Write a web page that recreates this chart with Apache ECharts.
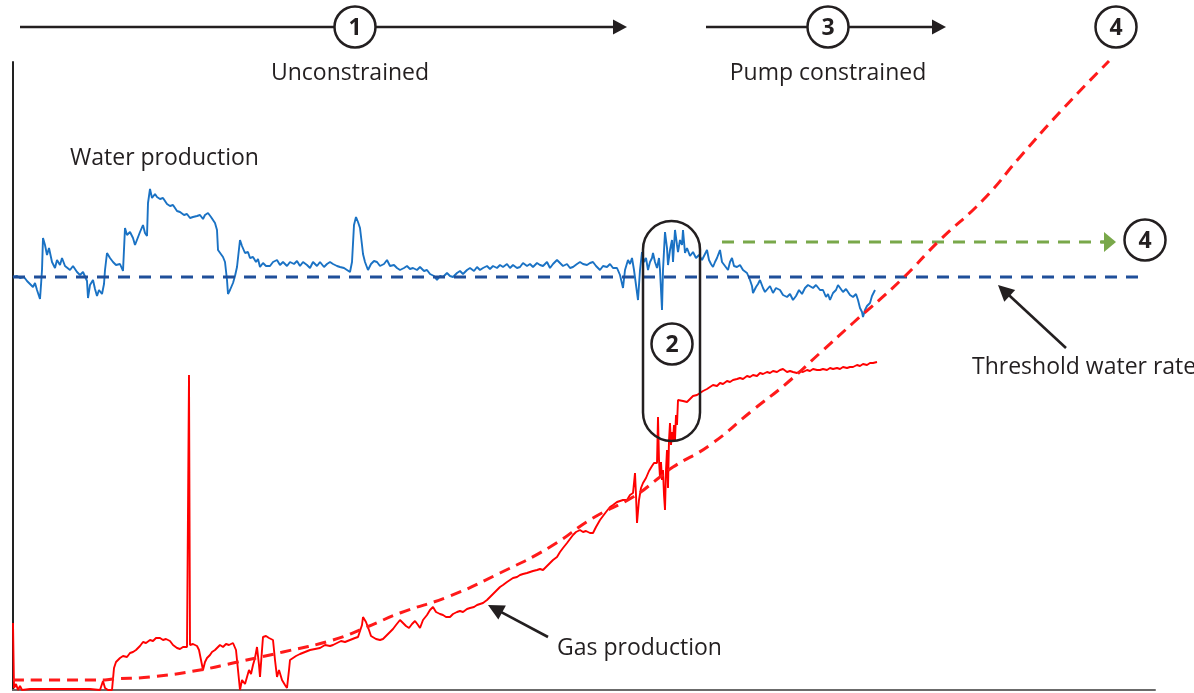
<!DOCTYPE html>
<html><head><meta charset="utf-8">
<script src="https://cdn.jsdelivr.net/npm/echarts@6/dist/echarts.min.js"></script>
<style>html,body{margin:0;padding:0;background:#fff}#c{width:1194px;height:693px}</style>
</head><body><div id="c"></div>
<script>
// x: time (days), y: rate (arbitrary units)
const waterProduction = [[13,413],[17,414],[20,412],[24,413],[27,409],[30,406],[33,403],[35,407],[37,400],[39,394],[40,391],[41,405],[42,420],[43,452],[45,445],[47,435],[49,442],[50,440],[52,428],[55,422],[57,430],[60,425],[62,432],[65,424],[67,423],[70,420],[73,424],[77,418],[80,415],[83,418],[87,409],[88,392],[90,405],[93,410],[95,401],[97,394],[99,400],[102,396],[104,406],[105,420],[107,437],[110,432],[113,428],[116,425],[120,426],[123,419],[125,462],
[127,455],[130,458],[133,452],[135,445],[137,447],[140,458],[143,465],[145,457],[147,454],[148,487],[150,501],[152,492],[155,496],[157,493],[160,491],[163,492],[167,486],[170,484],[173,485],[177,479],[180,478],[184,475],[187,476],[190,472],[193,473],[197,474],[200,475],[203,471],[205,475],[208,477],[211,473],[215,467],[217,460],[218,440],[220,438],[223,433],[225,428],[227,410],[228,396],[230,400],[233,407],[235,414],[237,423],[240,450],[242,444],[245,437],[248,438],[250,432],[253,433],[256,428],[258,431],[260,423],[263,427],[266,424],[270,424],[273,428],[277,430],[280,425],[283,428],[287,424],[290,428],[294,426],[297,429],[300,424],[303,428],[307,425],[310,422],[313,428],[317,424],[320,428],[324,423],[327,426],[330,428],[333,426],[337,424],[340,423],[344,422],[347,420],[350,418],[352,428],[354,465],[356,473],[358,468],[360,462],[362,445],[363,436],[365,428],[368,420],[371,426],[374,429],[377,428],[380,424],[384,426],[387,430],[390,424],[394,425],[397,422],
[400,420],[404,422],[407,424],[410,421],[413,422],[417,420],[420,423],[424,419],[427,420],[430,416],[434,414],[437,410],[440,414],[443,413],[447,417],[450,414],[453,413],[457,417],[460,419],[463,416],[467,420],[470,422],[474,419],[477,423],[480,420],[483,422],[487,424],[490,421],[493,424],[497,422],[500,425],[503,423],[507,426],[510,422],[513,425],[517,422],[520,423],[523,427],[527,424],[530,426],[533,423],[537,427],[540,425],[543,424],[547,428],[550,422],[553,426],[557,430],[560,427],[563,424],[567,426],[570,422],[573,423],[577,426],[580,428],[583,426],[587,425],[590,427],[593,428],[596,424],[600,420],[603,424],[607,423],[610,426],[613,422],[617,422],[620,415],[623,402],[625,420],[628,430],[630,426],[632,432],[634,420],[636,405],[638,390],[640,420],[642,438],[644,428],[646,432],[648,420],[650,428],[652,432],[653,437],[655,428],[657,422],[659,432],[660,420],[661,400],[662,380],[663,420],[665,458],[667,442],[668,425],[670,440],[672,450],[673,428],[675,460],[677,445],[678,438],[680,450],[682,445],[683,460],[685,437],[687,442],[690,434],[693,438],[696,432],[699,435],[702,430],[704,428],[707,440],[709,430],[711,426],[713,423],[715,428],[717,432],[720,440],[722,428],[725,424],[728,420],[730,428],[732,432],[734,424],[737,423],[740,425],[743,420],[747,417],[750,410],[752,404],[753,397],[756,403],[758,406],[760,410],[763,402],[765,398],[767,400],[770,404],[773,397],[776,402],[780,400],[783,395],[787,393],[790,396],[793,390],[796,394],[799,400],[802,396],[805,402],[808,405],[810,407],[813,402],[816,405],[820,400],[823,400],[826,393],[828,396],[830,390],[833,397],[836,400],[838,405],[840,403],[843,398],[846,401],[850,395],[853,393],[856,396],[858,390],[860,382],[862,378],[863,373],[865,380],[867,384],[869,382],[870,387],[872,394],[875,400]];

const gasProduction = [[13,67],[14,2],[16,6],[18,0],[20,4],[22,0],[30,1],[50,1],[70,1],[90,1],[100,0],[103,9],[105,2],[108,0],[112,0],[114,22],[116,28],[118,30],[120,32],[123,34],[127,33],[130,37],[133,38],[136,40],[140,44],[143,48],[146,47],[150,50],[153,49],[156,52],[160,52],[163,50],[166,51],[170,49],[173,45],[177,42],[180,41],[183,43],[187,43],[189,44],[189,315],[190,315],[190,45],[193,46],[197,44],[199,40],[201,30],[203,20],[205,28],[207,32],[210,35],[212,38],[215,40],[217,42],[220,45],[223,43],[226,46],[229,45],[233,47],[236,40],[238,20],[240,0],[242,10],[245,6],[247,13],[249,20],[251,16],[253,25],[255,32],[257,43],[259,25],[260,13],[262,40],[263,53],[266,54],[269,52],[271,53],[273,50],[275,30],[277,13],[279,20],[282,10],[285,5],[287,2],[289,20],[290,30],[293,32],[296,34],[300,36],[305,38],[310,40],[315,41],[320,42],[325,45],[330,44],[333,45],[337,47],[341,49],[345,48],[350,50],[355,52],[358,53],[360,55],[362,65],[363,73],[366,68],[369,60],[371,54],[373,53],[376,51],[380,50],[383,51],[386,54],[390,58],[393,61],[396,65],[400,70],[403,67],[406,64],[409,62],[412,66],[415,69],[418,65],[420,62],[423,70],[427,75],[430,80],[433,83],[436,78],[440,76],[443,75],[446,73],[450,73],[453,76],[457,78],[460,79],[463,78],[467,81],[470,82],[474,83],[477,85],[480,86],[483,87],[487,90],[490,93],[493,96],[496,99],[500,103],[503,105],[507,108],[510,110],[513,112],[517,113],[520,115],[523,116],[527,117],[530,118],[533,119],[537,120],[540,121],[543,120],[546,123],[550,127],[553,130],[557,133],[560,138],[563,142],[567,147],[570,151],[573,155],[576,158],[580,160],[583,158],[586,159],[590,157],[593,157],[596,163],[600,170],[603,174],[606,178],[610,183],[613,185],[617,188],[620,189],[623,190],[627,190],[630,195],[633,197],[635,217],[636,195],[637,167],[639,190],[641,202],[643,207],[646,212],[649,219],[652,224],[654,227],[656,228],[657,227],[658,273],[659,230],[660,212],[661,228],[662,210],[663,220],[664,195],[665,180],[666,220],[667,240],[668,202],[669,250],[670,267],[671,245],[672,258],[673,250],[674,265],[675,250],[676,275],[677,265],[678,290],[680,292],[683,289],[687,288],[690,291],[693,294],[697,295],[700,297],[703,299],[707,301],[710,303],[713,305],[717,304],[720,307],[723,306],[727,309],[730,308],[733,310],[737,311],[740,312],[743,311],[747,314],[750,313],[753,315],[757,314],[760,317],[763,316],[767,318],[770,317],[773,319],[777,318],[780,320],[783,321],[787,318],[790,319],[793,318],[797,317],[800,319],[803,318],[807,320],[810,319],[813,321],[817,320],[820,320],[823,321],[827,320],[830,322],[833,321],[837,322],[840,321],[843,323],[847,322],[850,323],[853,323],[857,325],[860,324],[863,326],[867,325],[870,327],[873,327],[877,328]];

const gasTrend = [[13,10],[50,10],[105,10],[113,11],[150,13],[200,20],[233,27],[283,38],[333,50],[367,63],[400,77],[450,94],[500,117],[550,143],[593,172],[633,193],[660,213],[673,223],[710,245],[753,280],[787,307],[820,337],[853,367],[900,409],[940,450],[983,490],[1020,533],[1060,578],[1109,629]];

const thresholdWater = [[13,413],[1147,413]];
const targetWater = [[722,448],[1105,448]];

// annotation anchors in data coordinates
const phaseArrows = [
  {from:[20,663], to:[627,663]},
  {from:[706,663], to:[946,663]}
];
const circledNumbers = [
  {label:'1', at:[355,663]},
  {label:'3', at:[828,663]},
  {label:'4', at:[1116,663]},
  {label:'4', at:[1145,450]},
  {label:'2', at:[672,346]}
];
const pill = {x0:643, x1:700, y0:249, y1:469};
const labels = [
  {text:'Unconstrained', at:[350,617], align:'center'},
  {text:'Pump constrained', at:[828,617], align:'center'},
  {text:'Water production', at:[70,532], align:'left'},
  {text:'Gas production', at:[557,42], align:'left'},
  {text:'Threshold water rate', at:[972,323], align:'left'}
];
const pointerArrows = [
  {from:[548,53], to:[488,85]},
  {from:[1066,342], to:[998,405]}
];
const targetArrowTip = [1116,448];

const INK = '#231f20';
const FONT = '"Open Sans", sans-serif';

const chart = echarts.init(document.getElementById('c'), null, {renderer:'canvas'});
chart.setOption({
  animation:false,
  backgroundColor:'#fff',
  grid:{left:13, right:39, top:62, bottom:3},
  xAxis:{type:'value', min:13, max:1155, axisLine:{show:true, lineStyle:{color:'#6b6b6b', width:2}},
    axisTick:{show:false}, axisLabel:{show:false}, splitLine:{show:false}},
  yAxis:{type:'value', min:0, max:628, axisLine:{show:true, lineStyle:{color:'#222', width:2}},
    axisTick:{show:false}, axisLabel:{show:false}, splitLine:{show:false}},
  series:[
    {name:'Water production', type:'line', data:waterProduction, showSymbol:false, symbol:'none',
      lineStyle:{color:'#1a72c4', width:1.9}},
    {name:'Gas production', type:'line', data:gasProduction, showSymbol:false, symbol:'none',
      lineStyle:{color:'#ff0000', width:1.9}},
    {name:'Threshold water rate', type:'line', data:thresholdWater, showSymbol:false, symbol:'none',
      lineStyle:{color:'#1f4f9a', width:3, type:[12,9]}},
    {name:'Target water', type:'line', data:targetWater, showSymbol:false, symbol:'none',
      lineStyle:{color:'#79a84a', width:3, type:[12,9]}},
    {name:'Gas trend', type:'line', data:gasTrend, showSymbol:false, symbol:'none', smooth:true, clip:false,
      lineStyle:{color:'#ff1a1a', width:3, type:[11,7]}}
  ]
});

function px(p){ return chart.convertToPixel({xAxisIndex:0, yAxisIndex:0}, p); }
function arrow(fromD, toD, color, width, L, W){
  const a = px(fromD), b = px(toD);
  const dx = b[0]-a[0], dy = b[1]-a[1], len = Math.hypot(dx,dy);
  const ux = dx/len, uy = dy/len, nx = -uy, ny = ux;
  const bx = b[0]-ux*L, by = b[1]-uy*L;
  return [
    {type:'line', shape:{x1:a[0], y1:a[1], x2:bx+ux*2, y2:by+uy*2}, style:{stroke:color, lineWidth:width}},
    {type:'polygon', shape:{points:[[b[0],b[1]],[bx+nx*W,by+ny*W],[bx-nx*W,by-ny*W]]}, style:{fill:color}}
  ];
}
const g = [];
phaseArrows.forEach(a => g.push(...arrow(a.from, a.to, INK, 2.4, 14, 7.5)));
pointerArrows.forEach(a => g.push(...arrow(a.from, a.to, INK, 2.6, 16, 8)));
g.push(...arrow([targetWater[1][0]-4, targetWater[1][1]], targetArrowTip, '#79a84a', 3, 12, 10));
// pill around the transition
const p0 = px([pill.x0, pill.y1]), p1 = px([pill.x1, pill.y0]);
const pw = p1[0]-p0[0], ph = p1[1]-p0[1];
g.push({type:'rect', shape:{x:p0[0], y:p0[1], width:pw, height:ph, r:pw/2},
  style:{fill:'none', stroke:INK, lineWidth:2.5}, z:10});
circledNumbers.forEach(c => {
  const p = px(c.at);
  g.push({type:'circle', shape:{cx:p[0], cy:p[1], r:20.5}, style:{fill:'#fff', stroke:INK, lineWidth:2.5}, z:11});
  g.push({type:'text', x:p[0], y:p[1]+1, style:{text:c.label, fill:INK, font:'bold 23px '+FONT,
    textAlign:'center', textVerticalAlign:'middle'}, z:12});
});
labels.forEach(l => {
  const p = px(l.at);
  g.push({type:'text', x:p[0], y:p[1], style:{text:l.text, fill:INK, font:'23px '+FONT,
    textAlign:l.align, textVerticalAlign:'middle'}, z:12});
});
chart.setOption({graphic:g});
</script></body></html>
